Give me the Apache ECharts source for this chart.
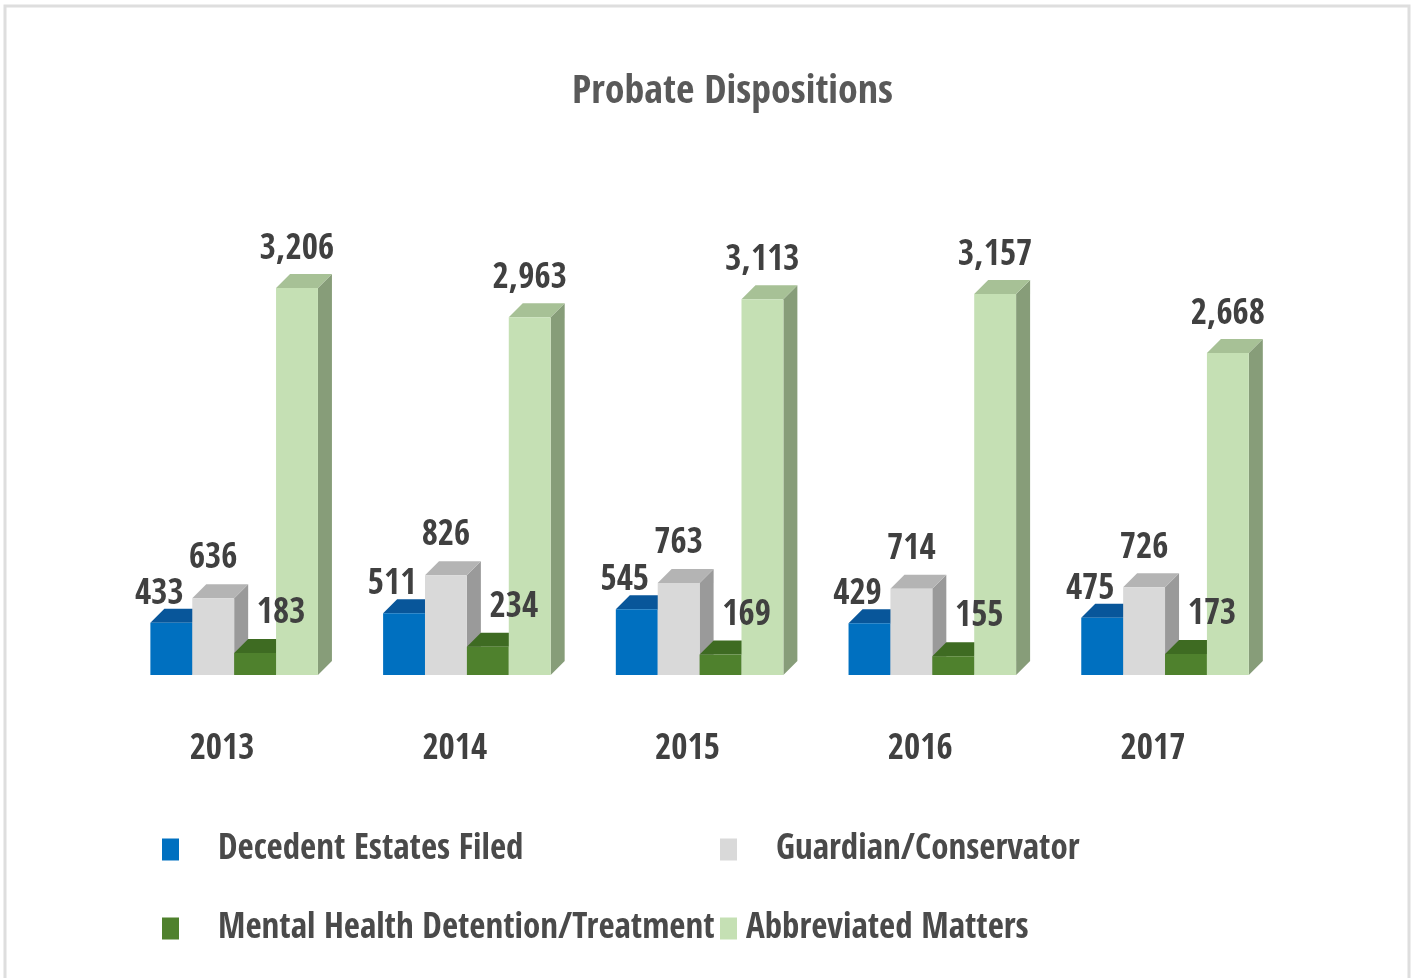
<!DOCTYPE html>
<html>
<head>
<meta charset="utf-8">
<script src="https://cdn.jsdelivr.net/npm/echarts@6/dist/echarts.min.js"></script>
<style>
  html, body { margin: 0; padding: 0; background: #fff; }
  #chart { width: 1416px; height: 978px; }
</style>
</head>
<body>
<div id="chart"></div>
<script>
var years = ['2013', '2014', '2015', '2016', '2017'];
var decedentEstates = [433, 511, 545, 429, 475];
var guardianConservator = [636, 826, 763, 714, 726];
var mentalHealth = [183, 234, 169, 155, 173];
var abbreviatedMatters = [3206, 2963, 3113, 3157, 2668];

var seriesNames = ['Decedent Estates Filed', 'Guardian/Conservator', 'Mental Health Detention/Treatment', 'Abbreviated Matters'];
var seriesData = [decedentEstates, guardianConservator, mentalHealth, abbreviatedMatters];

// front / top / side colours of each bar
var faces = [
    ['#0070c0', '#08569a', '#08569a'],
    ['#d9d9d9', '#b4b4b4', '#9a9a9a'],
    ['#4f812d', '#3e6b22', '#3a5f22'],
    ['#c5e0b4', '#a7c196', '#879d79']
];
// where the value label sits, relative to bar centre / back top
var labelShift = [[-12, -14], [0, -25], [26, -25], [0, -24]];

var FONT = "'Open Sans Condensed', 'Roboto Condensed', sans-serif";
var DEPTH = 14;

function barBox(api, idx, cat, val) {
    var base = api.coord([cat, 0]);
    var top = api.coord([cat, val]);
    var band = api.size([1, 0])[0];
    var w = band * 0.18;
    return { x: base[0] + band * 0.052 + (idx - 2) * w, w: w, ty: top[1], by: base[1] };
}

function makeRender(idx) {
    return function (params, api) {
        var b = barBox(api, idx, api.value(0), api.value(1));
        var x = b.x, w = b.w, ty = b.ty, by = b.by, d = DEPTH;
        var c = faces[idx];
        return {
            type: 'group',
            children: [
                { type: 'polygon', shape: { points: [[x + w, ty], [x + w + d, ty - d], [x + w + d, by - d], [x + w, by]] }, style: { fill: c[2] } },
                { type: 'polygon', shape: { points: [[x, ty], [x + w, ty], [x + w + d, ty - d], [x + d, ty - d]] }, style: { fill: c[1] } },
                { type: 'rect', shape: { x: x, y: ty, width: w, height: by - ty }, style: { fill: c[0] } }
            ]
        };
    };
}

function renderLabel(params, api) {
    var idx = api.value(1), val = api.value(2);
    var b = barBox(api, idx, api.value(0), val);
    return {
        type: 'text',
        style: {
            text: val.toLocaleString('en-US'),
            x: b.x + b.w / 2 + labelShift[idx][0],
            y: b.ty - DEPTH + labelShift[idx][1],
            align: 'center', verticalAlign: 'middle',
            font: 'bold 35px ' + FONT, fill: '#404040'
        }
    };
}

var series = seriesNames.map(function (name, i) {
    return {
        name: name,
        type: 'custom',
        z: 2 + i,
        renderItem: makeRender(i),
        itemStyle: { color: faces[i][0] },
        encode: { x: 0, y: 1 },
        data: seriesData[i].map(function (v, j) { return [j, v]; })
    };
});

var labelData = [];
seriesData.forEach(function (arr, i) {
    arr.forEach(function (v, j) { labelData.push([j, i, v]); });
});
series.push({
    name: 'labels',
    type: 'custom',
    z: 20,
    silent: true,
    renderItem: renderLabel,
    encode: { x: 0, y: 2 },
    data: labelData
});

function legendAt(name, left, top, gap) {
    return {
        data: [name], left: left, top: top,
        icon: 'rect', itemWidth: 17, itemHeight: 22,
        textStyle: { fontFamily: FONT, fontSize: 35, fontWeight: 'bold', color: '#4a4a4a', padding: [0, 0, 0, gap] }
    };
}

var chart = echarts.init(document.getElementById('chart'));
chart.setOption({
    backgroundColor: '#fff',
    animation: false,
    graphic: [{
        type: 'rect', shape: { x: 5, y: 6, width: 1404, height: 1000 },
        style: { fill: 'none', stroke: '#dedede', lineWidth: 3 }
    }],
    title: {
        text: 'Probate Dispositions', left: 567, top: 68,
        textStyle: { fontFamily: FONT, fontSize: 40, fontWeight: 'bold', color: '#595959' }
    },
    legend: [
        legendAt(seriesNames[0], 157, 827, 34),
        legendAt(seriesNames[1], 715, 827, 34),
        legendAt(seriesNames[2], 157, 906, 34),
        legendAt(seriesNames[3], 715, 906, 4)
    ],
    grid: { left: 105.7, right: 146.7, top: 252.5, bottom: 303 },
    xAxis: {
        type: 'category', data: years,
        axisLine: { show: false }, axisTick: { show: false },
        axisLabel: { margin: 57, fontFamily: FONT, fontSize: 35, fontWeight: 'bold', color: '#404040' }
    },
    yAxis: {
        type: 'value', min: 0, max: 3500, show: false,
        splitLine: { show: false }
    },
    series: series
});
</script>
</body>
</html>
